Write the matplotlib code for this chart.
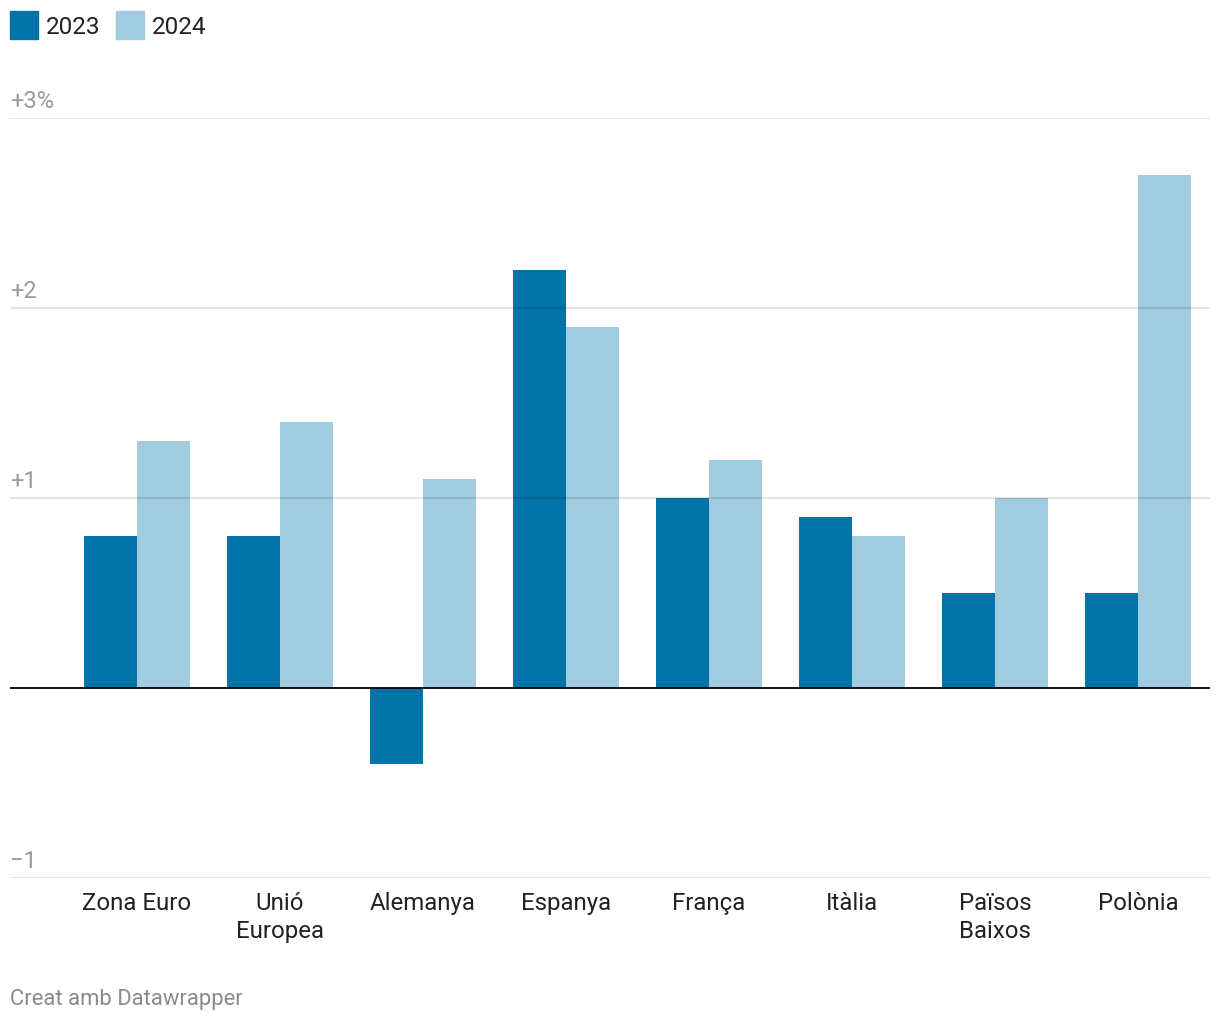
import matplotlib
matplotlib.use("Agg")
import matplotlib.pyplot as plt
import matplotlib.transforms as mtransforms
from matplotlib.patches import Rectangle
import numpy as np

categories = ["Zona Euro", "Unió\nEuropea", "Alemanya", "Espanya", "França", "Itàlia", "Països\nBaixos", "Polònia"]
values_2023 = [0.8, 0.8, -0.4, 2.2, 1.0, 0.9, 0.5, 0.5]
values_2024 = [1.3, 1.4, 1.1, 1.9, 1.2, 0.8, 1.0, 2.7]
series_names = ["2023", "2024"]
ytick_values = [3, 2, 1, -1]
ytick_labels = ["+3%", "+2", "+1", "\u22121"]

color_2023 = "#0073a8"
color_2024 = "#a1cbdf"

plt.rcParams['font.family'] = ['Roboto', 'DejaVu Sans']

W, H = 1220, 1020
fig = plt.figure(figsize=(W / 100, H / 100), dpi=100)
ax = fig.add_axes([10 / W, (H - 879) / H, 1200 / W, 760 / H])

x = np.arange(len(categories))
bw = 0.37
ax.bar(x - bw / 2, values_2023, width=bw, color=color_2023, zorder=2, linewidth=0)
ax.bar(x + bw / 2, values_2024, width=bw, color=color_2024, zorder=2, linewidth=0)

ax.set_xlim(-0.888, 7.503)
ax.set_ylim(-1, 3)

for v in ytick_values:
    ax.axhline(v, color="black", alpha=0.11, linewidth=1.5, zorder=3)
ax.axhline(0, color="black", linewidth=1.3, zorder=4)

trans = mtransforms.offset_copy(ax.get_yaxis_transform(), fig=fig, x=0, y=11, units='dots')
for v, lab in zip(ytick_values, ytick_labels):
    ax.text(0, v, lab, transform=trans, ha="left", va="baseline", fontsize=17, color="#9a9a9a")

for s in ax.spines.values():
    s.set_visible(False)
ax.set_yticks([])
ax.set_xticks(x)
ax.set_xticklabels(categories, fontsize=17.3, color="#222222", linespacing=1.27)
ax.tick_params(axis="x", length=0, pad=9.5)

# legend
fig.patches.append(Rectangle((10 / W, (H - 40) / H), 28 / W, 28 / H, transform=fig.transFigure,
                             color=color_2023, figure=fig))
fig.text(46 / W, (H - 27.5) / H, series_names[0], fontsize=17.5, color="#222222", va="center", ha="left")
fig.patches.append(Rectangle((116 / W, (H - 40) / H), 28 / W, 28 / H, transform=fig.transFigure,
                             color=color_2024, figure=fig))
fig.text(152 / W, (H - 27.5) / H, series_names[1], fontsize=17.5, color="#222222", va="center", ha="left")

fig.text(10 / W, (H - 1005) / H, "Creat amb Datawrapper", fontsize=15.8, color="#8a8a8a",
         va="baseline", ha="left")

fig.savefig("out.png", dpi=100, facecolor="white")
